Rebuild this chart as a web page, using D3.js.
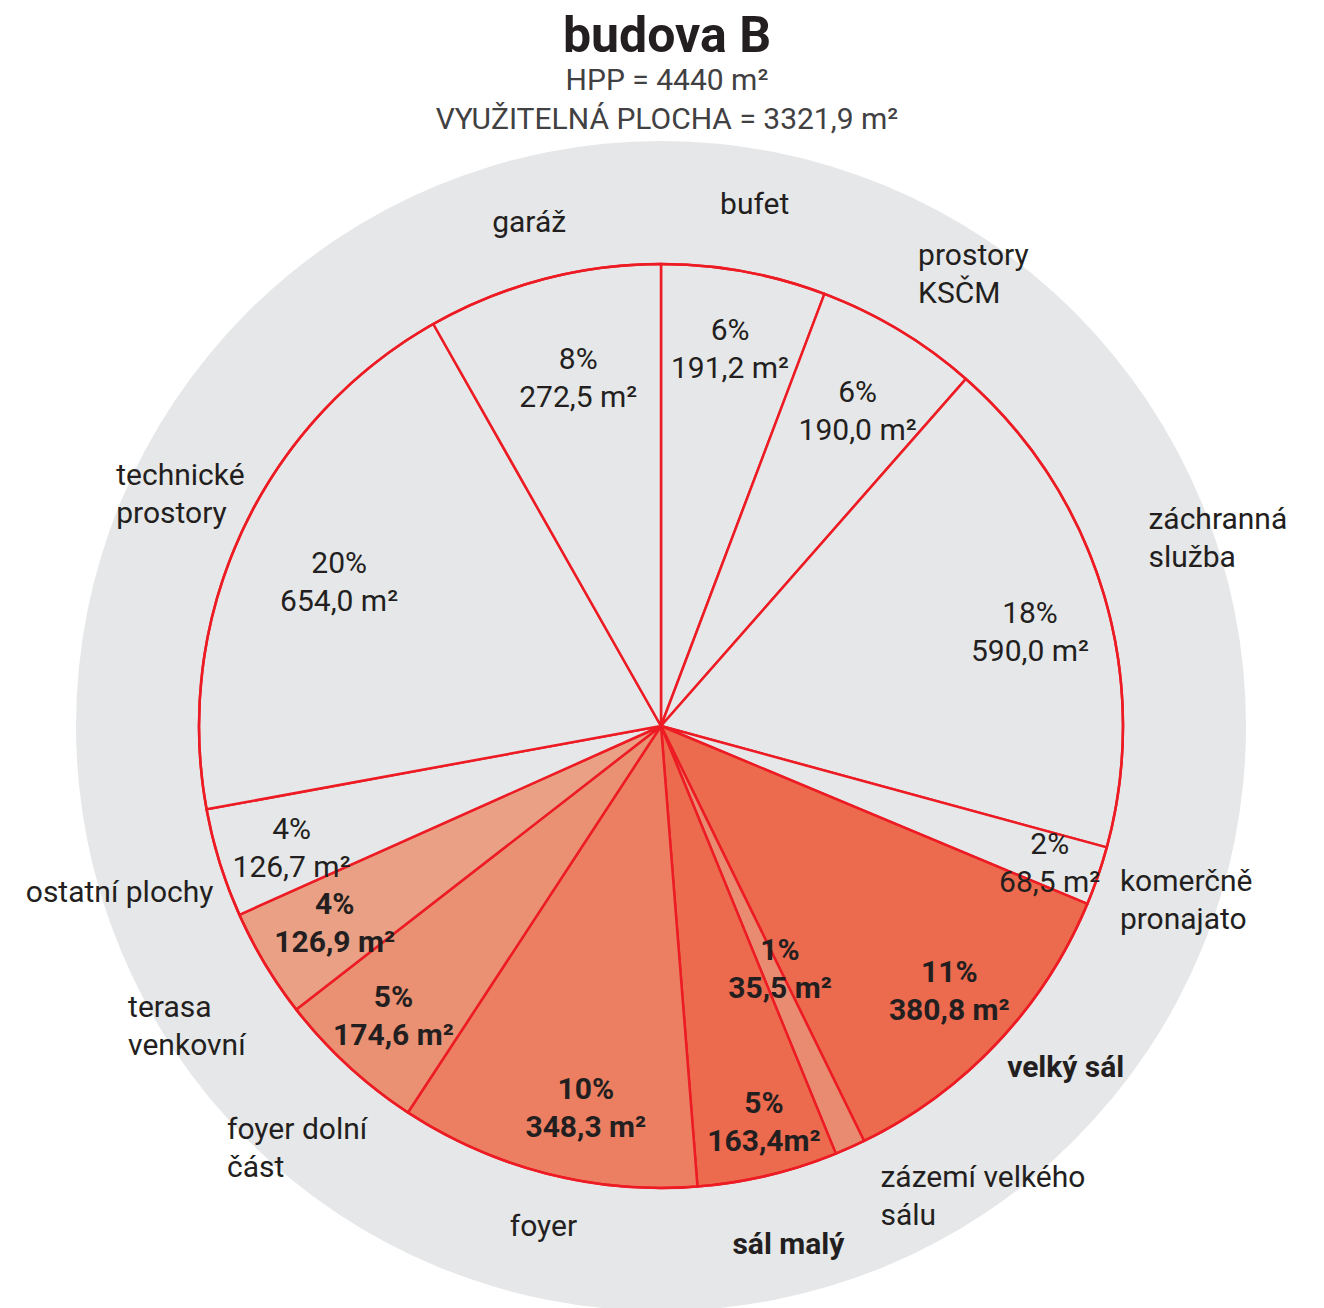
<!DOCTYPE html>
<html>
<head>
<meta charset="utf-8">
<script src="https://cdn.jsdelivr.net/npm/d3@7"></script>
<style>
  body { margin: 0; background: #fff; }
  svg text { font-family: Roboto, "Open Sans", sans-serif; fill: #231f20; }
</style>
</head>
<body>
<div id="chart"></div>
<script>
// ---- data (clockwise from 12 o'clock) ----
const names = [
  ["bufet"], ["prostory", "KSČM"], ["záchranná", "služba"], ["komerčně", "pronajato"],
  ["velký sál"], ["zázemí velkého", "sálu"], ["sál malý"], ["foyer"],
  ["foyer dolní", "část"], ["terasa", "venkovní"], ["ostatní plochy"],
  ["technické", "prostory"], ["garáž"]
];
const areas = [191.2, 190.0, 590.0, 68.5, 380.8, 35.5, 163.4, 348.3, 174.6, 126.9, 126.7, 654.0, 272.5];
const unitGap = [" ", " ", " ", " ", " ", " ", "", " ", " ", " ", " ", " ", " "];
const fills = ["#e6e7e8", "#e6e7e8", "#e6e7e8", "#e6e7e8", "#ec6a4d", "#e98b70", "#ec6a4d",
               "#ec7f62", "#ea9073", "#e9a085", "#e6e7e8", "#e6e7e8", "#e6e7e8"];
const boldSlice = [false, false, false, false, true, true, true, true, true, true, false, false, false];
const boldName = [false, false, false, false, true, false, true, false, false, false, false, false, false];

const title = "budova B";
const subtitles = ["HPP = 4440 m²", "VYUŽITELNÁ PLOCHA = 3321,9 m²"];

// ---- label layout nudges (radius px, angle shift deg) ----
const innerR = [384, 372, 381, 412, 391, 270, 409, 389, 394, 381, 389, 353, 358];
const innerShift = [0, 0.9, 2.3, 0.4, -0.8, -2, -1.2, -3.2, 0.1, -0.1, -1, -0.8, 1.4];
const nameR = [531, 550, 588, 553, 529, 569, 533, 513, 556, 560, 566, 534, 521];
const nameShift = [-0.2, 3.6, -2.0, -0.7, -3.2, -10.3, -0.5, -1.1, -1.9, -1.3, 0.3, 0.8, 0.1];

// ---- setup ----
const W = 1324, H = 1308;
const cx = 661, cy = 726;
const R = 462, Rbg = 585;
const red = "#ed1c24";
const fs = "30px";

const svg = d3.select("#chart").append("svg")
  .attr("width", W).attr("height", H);

const rows = areas.map((v, i) => ({ i, name: names[i], area: v }));

// background disc
svg.append("circle").attr("cx", cx).attr("cy", cy).attr("r", Rbg).attr("fill", "#e6e7e8");

const g = svg.append("g").attr("transform", `translate(${cx},${cy})`);

const pie = d3.pie().value(d => d.area).sort(null);
const arcs = pie(rows);
const arc = d3.arc().innerRadius(0).outerRadius(R);

g.selectAll("path.slice")
  .data(arcs)
  .join("path")
  .attr("class", "slice")
  .attr("d", arc)
  .attr("fill", d => fills[d.data.i])
  .attr("stroke", red)
  .attr("stroke-width", 2.5)
  .attr("stroke-linejoin", "round");

g.append("circle").attr("r", R).attr("fill", "none").attr("stroke", red).attr("stroke-width", 2.5);

function polar(r, a) { return [r * Math.sin(a), -r * Math.cos(a)]; }
const deg = Math.PI / 180;
const fmt = d3.format(".1f");
const total = d3.sum(areas);

// inner labels: percent + area
const inner = g.selectAll("g.inner")
  .data(arcs)
  .join("g")
  .attr("class", "inner")
  .attr("transform", d => {
    const a = (d.startAngle + d.endAngle) / 2 + innerShift[d.data.i] * deg;
    const [x, y] = polar(innerR[d.data.i], a);
    return `translate(${x},${y})`;
  });

inner.append("text")
  .attr("text-anchor", "middle")
  .attr("y", -19).attr("dy", "0.35em")
  .style("font-size", fs)
  .style("font-weight", d => boldSlice[d.data.i] ? 700 : 400)
  .text(d => Math.round(d.data.area / total * 100) + "%");

inner.append("text")
  .attr("text-anchor", "middle")
  .attr("y", 19).attr("dy", "0.35em")
  .style("font-size", fs)
  .style("font-weight", d => boldSlice[d.data.i] ? 700 : 400)
  .text(d => fmt(d.data.area).replace(".", ",") + unitGap[d.data.i] + "m²");

// category names outside the pie
const lab = g.selectAll("g.name")
  .data(arcs)
  .join("g")
  .attr("class", "name");

lab.each(function(d) {
  const el = d3.select(this);
  const t = el.append("text")
    .style("font-size", fs)
    .style("font-weight", boldName[d.data.i] ? 700 : 400);
  d.data.name.forEach((line, k) => {
    t.append("tspan").attr("x", 0).attr("y", k * 38).text(line);
  });
  const bb = this.getBBox();
  const a = (d.startAngle + d.endAngle) / 2 + nameShift[d.data.i] * deg;
  const [x, y] = polar(nameR[d.data.i], a);
  el.attr("transform", `translate(${x - bb.x - bb.width / 2},${y - bb.y - bb.height / 2})`);
});

// titles
svg.append("text")
  .attr("x", 667).attr("y", 52)
  .attr("text-anchor", "middle")
  .style("font-size", "50px").style("font-weight", 700)
  .text(title);

svg.selectAll("text.sub")
  .data(subtitles)
  .join("text")
  .attr("class", "sub")
  .attr("x", 667)
  .attr("y", (d, i) => 90 + i * 39)
  .attr("text-anchor", "middle")
  .style("font-size", "30px")
  .style("fill", "#414042")
  .text(d => d);
</script>
</body>
</html>
